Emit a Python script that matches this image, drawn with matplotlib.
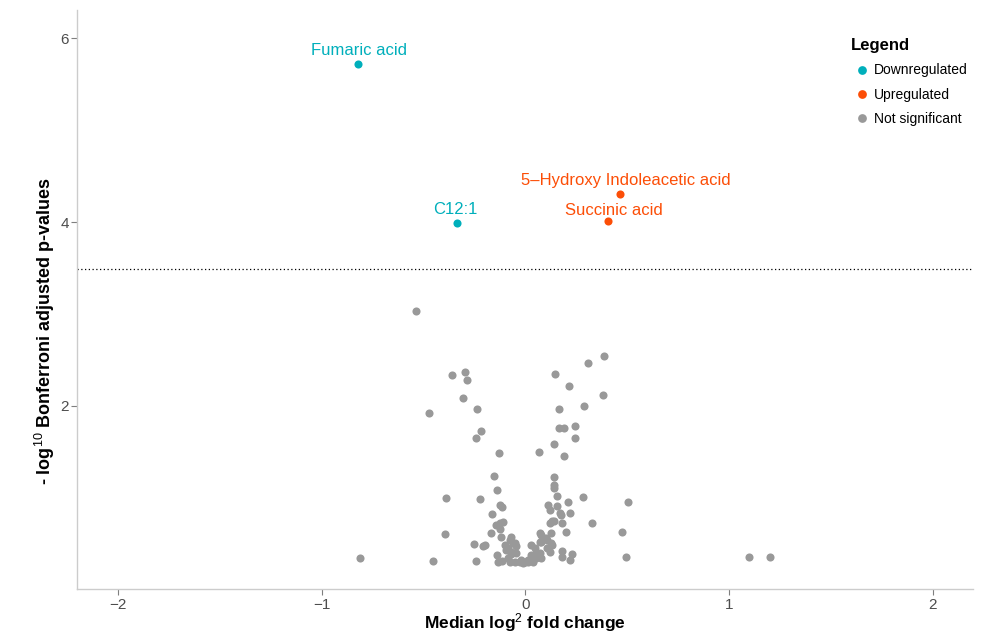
import numpy as np
import matplotlib
matplotlib.use('Agg')
import matplotlib.pyplot as plt

plt.rcParams['font.family'] = ['Liberation Sans', 'DejaVu Sans']
plt.rcParams['mathtext.fontset'] = 'custom'
plt.rcParams['mathtext.rm'] = 'Liberation Sans'
plt.rcParams['mathtext.it'] = 'Liberation Sans:italic'
plt.rcParams['mathtext.bf'] = 'Liberation Sans:bold'

# metabolitos significativos
sig_names = ['Fumaric acid', 'C12:1', '5–Hydroxy Indoleacetic acid', 'Succinic acid']
sig_fc = [-0.823, -0.338, 0.463, 0.408]
sig_p = [5.72, 3.99, 4.31, 4.01]
sig_group = ['Downregulated', 'Downregulated', 'Upregulated', 'Upregulated']

# metabolitos nao significativos (log2 FC mediano, -log10 p ajustado)
ns_fc = [-0.813, -0.538, -0.474, -0.453, -0.396, -0.389, -0.361, -0.307, -0.298, -0.288,
         -0.252, -0.243, -0.242, -0.238, -0.222, -0.219, -0.208, -0.199, -0.167, -0.162,
         -0.152, -0.142, -0.140, -0.139, -0.134, -0.129, -0.126, -0.126, -0.126, -0.121,
         -0.117, -0.117, -0.110, -0.101, -0.093, -0.085, -0.085, -0.077, -0.077, -0.068,
         -0.068, -0.068, -0.060, -0.052, -0.052, -0.044, -0.044, -0.027, -0.020, -0.011,
         -0.003, 0.013, 0.013, 0.030, 0.030, 0.038, 0.038, 0.046, 0.054, 0.054,
         0.069, 0.071, 0.071, 0.071, 0.079, 0.079, 0.079, 0.099, 0.104, 0.104,
         0.112, 0.120, 0.121, 0.123, 0.128, 0.128, 0.131, 0.133, 0.139, 0.139,
         0.141, 0.141, 0.141, 0.146, 0.153, 0.156, 0.164, 0.166, 0.170, 0.177,
         0.179, 0.182, 0.182, 0.189, 0.190, 0.198, 0.210, 0.215, 0.218, 0.218,
         0.231, 0.243, 0.244, 0.282, 0.288, 0.306, 0.329, 0.382, 0.385, 0.475,
         0.496, 0.504, 1.098, 1.203]
ns_p = [0.34, 3.03, 1.92, 0.31, 0.60, 1.00, 2.33, 2.08, 2.37, 2.28,
        0.49, 0.31, 1.645, 1.96, 0.99, 1.72, 0.47, 0.48, 0.61, 0.82,
        1.24, 0.70, 1.08, 0.38, 0.30, 1.485, 0.92, 0.72, 0.655, 0.567,
        0.90, 0.31, 0.737, 0.483, 0.43, 0.447, 0.34, 0.54, 0.30, 0.574,
        0.41, 0.385, 0.50, 0.50, 0.30, 0.47, 0.393, 0.30, 0.32, 0.284,
        0.30, 0.30, 0.32, 0.375, 0.483, 0.32, 0.30, 0.447, 0.34, 0.393,
        1.50, 0.393, 0.52, 0.61, 0.595, 0.52, 0.34, 0.556, 0.447, 0.54,
        0.919, 0.41, 0.864, 0.72, 0.61, 0.50, 0.741, 0.483, 1.22, 1.10,
        1.137, 1.58, 0.748, 2.345, 0.911, 1.017, 1.97, 1.757, 0.835, 0.807,
        0.723, 0.42, 0.356, 1.45, 1.76, 0.62, 0.948, 2.21, 0.835, 0.323,
        0.39, 1.65, 1.78, 1.01, 2.00, 2.47, 0.72, 2.12, 2.54, 0.628,
        0.35, 0.95, 0.35, 0.35]

threshold = 3.49
x_ticks = [-2, -1, 0, 1, 2]
y_ticks = [2, 4, 6]

cores = {'Downregulated': '#00AFBB', 'Upregulated': '#FC4E07', 'Not significant': '#999999'}
# deslocamento dos rotulos em pixels
label_offset = {'Fumaric acid': (1, 6), 'C12:1': (-1, 6),
                '5–Hydroxy Indoleacetic acid': (6, 6), 'Succinic acid': (5, 3)}

fig = plt.figure(figsize=(9.93, 6.35), dpi=100)
ax = fig.add_axes([0.0778, 0.0718, 0.9025, 0.9124])

ax.scatter(ns_fc, ns_p, s=34, color=cores['Not significant'], linewidths=0, zorder=2)
for nome, fc, p, grupo in zip(sig_names, sig_fc, sig_p, sig_group):
    ax.scatter(fc, p, s=34, color=cores[grupo], linewidths=0, zorder=3)
    ax.annotate(nome, (fc, p), xytext=label_offset[nome], textcoords='offset pixels',
                ha='center', va='bottom', fontsize=12, color=cores[grupo])

ax.axhline(threshold, color='black', linestyle=(0, (1, 2)), linewidth=0.9, zorder=1)

ax.set_xlim(-2.2, 2.2)
ax.set_ylim(0, 6.31)
ax.set_xticks(x_ticks)
ax.set_yticks(y_ticks)
ax.tick_params(colors='#7f7f7f', labelcolor='#4d4d4d', labelsize=11, length=4, width=0.8, pad=2)

for lado in ['top', 'right']:
    ax.spines[lado].set_visible(False)
for lado in ['left', 'bottom']:
    ax.spines[lado].set_color('#cccccc')
    ax.spines[lado].set_linewidth(1.0)

ax.set_xlabel('Median log$^{2}$ fold change', fontsize=12.5, fontweight='bold', va='center')
ax.xaxis.set_label_coords(0.5, -0.058)
ax.set_ylabel('- log$^{10}$ Bonferroni adjusted p-values', fontsize=13, fontweight='bold',
              va='center', ha='center')
ax.yaxis.set_label_coords(-0.036, 0.446)

# legenda
handles = [plt.Line2D([], [], marker='o', linestyle='', markersize=6.3, color=cores[k],
                      markeredgewidth=0) for k in cores]
leg = fig.legend(handles, list(cores.keys()), title='Legend', loc='upper left',
                 bbox_to_anchor=(0.857, 0.94), frameon=False, fontsize=10,
                 title_fontproperties={'weight': 'bold', 'size': 12},
                 alignment='left', handletextpad=0.1, handlelength=1.58,
                 labelspacing=0.74, borderpad=0, borderaxespad=0)

plt.savefig('out.png', dpi=100)
plt.close()
